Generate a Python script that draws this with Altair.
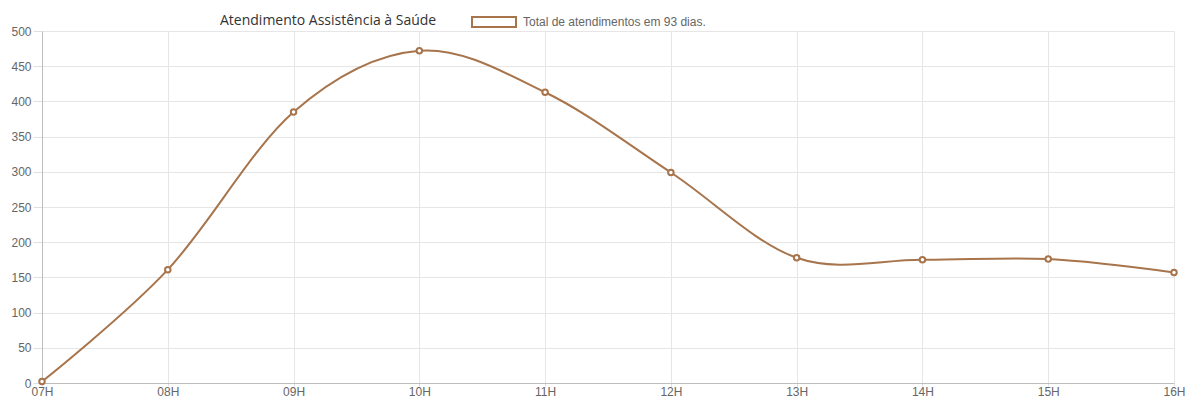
import altair as alt
import pandas as pd

hours = ["07H", "08H", "09H", "10H", "11H", "12H", "13H", "14H", "15H", "16H"]
values = [2, 161, 385, 472, 413, 299, 178, 175, 176, 157]
series = ["Total de atendimentos em 93 dias."] * len(hours)

df = pd.DataFrame({"hora": hours, "total": values, "serie": series})

brown = "#a7744b"

chart = alt.Chart(df).mark_line(
    interpolate="cardinal",
    tension=0,
    strokeWidth=2,
    point=alt.OverlayMarkDef(filled=False, fill="white", size=30, strokeWidth=2, color=brown),
).encode(
    x=alt.X("hora:O", sort=hours, scale=alt.Scale(type="point", padding=0),
            axis=alt.Axis(title=None, labelAngle=0, grid=True, gridColor="#e6e6e6",
                          domainColor="#bdbdbd", tickColor="#e0e0e0", tickSize=3,
                          labelPadding=0, labelColor="#666666", labelFontSize=12,
                          labelFont="Liberation Sans")),
    y=alt.Y("total:Q", scale=alt.Scale(domain=[0, 500], nice=False),
            axis=alt.Axis(title=None, values=list(range(0, 501, 50)), grid=True,
                          gridColor="#e6e6e6", domainColor="#bdbdbd", tickColor="#e0e0e0",
                          tickSize=9, labelPadding=2, labelColor="#666666", labelFontSize=12,
                          labelFont="Liberation Sans")),
    color=alt.Color("serie:N", scale=alt.Scale(range=[brown]),
                    legend=alt.Legend(
                        title="Atendimento Assistência à Saúde",
                        orient="none", legendX=178, legendY=-20,
                        titleOrient="left", titleFont="Open Sans", titleFontSize=14,
                        titleFontWeight="normal", titleColor="#333333", titlePadding=34,
                        titleLimit=500, labelLimit=500,
                        labelFont="Liberation Sans", labelFontSize=12, labelColor="#666666",
                        symbolType="M-1,-0.5H3.4V0.5H-1Z", symbolSize=400,
                        symbolFillColor="white", symbolStrokeColor=brown,
                        symbolStrokeWidth=2, labelOffset=30,
                    )),
).properties(
    width=1132, height=352,
    padding={"left": 34, "top": 23, "right": 11, "bottom": 16},
    autosize=alt.AutoSizeParams(type="none"),
).configure_view(stroke=None)

chart.save("out.html", embed_options={"renderer": "svg", "actions": False})
